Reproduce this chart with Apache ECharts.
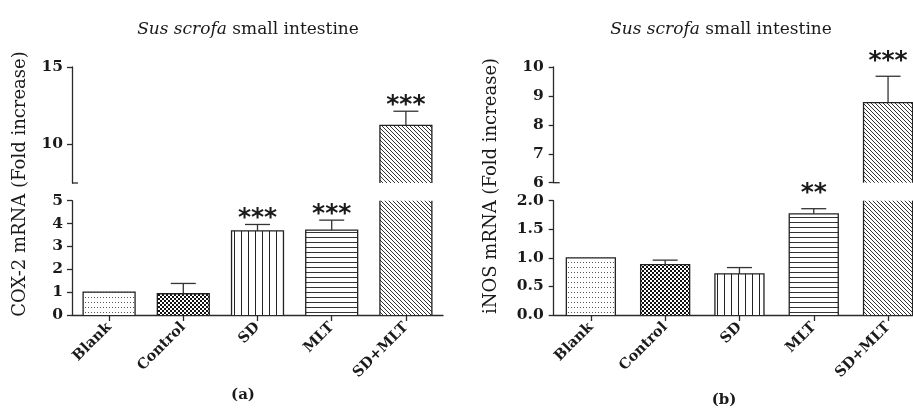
<!DOCTYPE html>
<html>
<head>
<meta charset="utf-8">
<script src="https://cdn.jsdelivr.net/npm/echarts@6/dist/echarts.min.js"></script>
<style>
html,body{margin:0;padding:0;background:#fff;}
#chart{width:913px;height:412px;}
</style>
</head>
<body>
<div id="chart"></div>
<script>
// ---------------- data ----------------
const CATEGORIES = ['Blank', 'Control', 'SD', 'MLT', 'SD+MLT'];

const COX_VALUES = [1.0, 0.93, 3.68, 3.71, 11.23];
const COX_ERRORS = [0, 0.45, 0.28, 0.44, 0.91];
const COX_STARS  = ['', '', '***', '***', '***'];

const INOS_VALUES = [1.0, 0.88, 0.72, 1.77, 8.77];
const INOS_ERRORS = [0, 0.08, 0.11, 0.09, 0.91];
const INOS_STARS  = ['', '', '', '**', '***'];

const COX_LOW_RANGE  = [0, 5];
const COX_HIGH_RANGE = [7.5, 15];
const COX_HIGH_TICKS = [10, 15];
const INOS_LOW_RANGE  = [0, 2];
const INOS_HIGH_RANGE = [6, 10];

const TITLE_TEXT = ['Sus scrofa', ' small intestine'];
const COX_NAME = 'COX-2 mRNA (Fold increase)';
const INOS_NAME = 'iNOS mRNA (Fold increase)';

// ---------------- styling ----------------
const SERIF = 'DejaVu Serif';
const INK = '#1a1a1a';
const AXIS = '#2a2a2a';

function mkCanvas(w, h, draw) {
  const c = document.createElement('canvas');
  c.width = w; c.height = h;
  const g = c.getContext('2d');
  g.fillStyle = '#ffffff'; g.fillRect(0, 0, w, h);
  draw(g);
  return c;
}
const PATTERNS = [
  mkCanvas(3, 5, g => { g.fillStyle = '#555'; g.fillRect(1, 2, 1, 1); }),
  mkCanvas(4, 4, g => { g.fillStyle = '#111'; g.fillRect(0, 0, 2, 2); g.fillRect(2, 2, 2, 2); }),
  mkCanvas(7, 1, g => { g.fillStyle = '#222'; g.fillRect(3, 0, 1, 1); }),
  mkCanvas(1, 5, g => { g.fillStyle = '#333'; g.fillRect(0, 2, 1, 1); }),
  mkCanvas(4, 4, g => { g.fillStyle = '#333'; for (let i = 0; i < 4; i++) g.fillRect(i, i, 1, 1); })
].map(c => ({ image: c, repeat: 'repeat' }));

function barRenderer(range, stars, ratio, starGap) {
  const lo = range[0], hi = range[1];
  return function (params, api) {
    const idx = api.value(0), v = api.value(1), e = api.value(2);
    if (v <= lo) return null;
    const base = api.coord([idx, lo]);
    const x = base[0], yBase = base[1];
    const yTop = api.coord([idx, Math.min(v, hi)])[1];
    const bw = api.size([1, 0])[0] * ratio;
    const l = x - bw / 2, r = x + bw / 2;
    const children = [];
    children.push({ type: 'rect', shape: { x: l, y: yTop, width: bw, height: yBase - yTop },
      style: { fill: PATTERNS[params.dataIndex], stroke: null } });
    if (v <= hi) {
      children.push({ type: 'polyline', shape: { points: [[l, yBase], [l, yTop], [r, yTop], [r, yBase]] },
        style: { stroke: '#222', lineWidth: 1.3, fill: null } });
    } else {
      children.push({ type: 'line', shape: { x1: l, y1: yBase, x2: l, y2: yTop }, style: { stroke: '#222', lineWidth: 1.3 } });
      children.push({ type: 'line', shape: { x1: r, y1: yBase, x2: r, y2: yTop }, style: { stroke: '#222', lineWidth: 1.3 } });
    }
    const top = v + e;
    if (v <= hi && top <= hi) {
      const yErr = api.coord([idx, top])[1];
      if (e > 0) {
        children.push({ type: 'line', shape: { x1: x, y1: yTop, x2: x, y2: yErr }, style: { stroke: '#333', lineWidth: 1.3 } });
        children.push({ type: 'line', shape: { x1: x - 12.5, y1: yErr, x2: x + 12.5, y2: yErr }, style: { stroke: '#333', lineWidth: 1.3 } });
      }
      const s = stars[params.dataIndex];
      if (s) {
        children.push({ type: 'text', x: x, y: yErr - starGap,
          style: { text: s, fontFamily: 'DejaVu Sans', fontWeight: 'bold', fontSize: 25, fill: INK, align: 'center', verticalAlign: 'middle' } });
      }
    }
    return { type: 'group', children: children };
  };
}

const G = {
  aLow:  { left: 72,    top: 200.7, width: 371,   height: 114.3, outerBoundsMode: 'none', containLabel: false },
  aHigh: { left: 72,    top: 67,    width: 371,   height: 116,   outerBoundsMode: 'none', containLabel: false },
  bLow:  { left: 553.7, top: 200.7, width: 371.5, height: 114.3, outerBoundsMode: 'none', containLabel: false },
  bHigh: { left: 553.7, top: 67,    width: 371.5, height: 115.7, outerBoundsMode: 'none', containLabel: false }
};

const tickLabel = { fontFamily: SERIF, fontWeight: 'bold', fontSize: 15.5, color: INK };
const axisLine = { show: true, lineStyle: { color: AXIS, width: 1.3 } };

function lowX(gi) {
  return { gridIndex: gi, type: 'category', data: CATEGORIES, boundaryGap: true,
    axisLine: axisLine, axisTick: { show: true, alignWithLabel: true, length: 6, lineStyle: { color: AXIS, width: 1.3 } },
    axisLabel: { rotate: 45, margin: 10, fontFamily: SERIF, fontWeight: 'bold', fontSize: 14.5, color: INK, interval: 0 } };
}
function highX(gi) {
  return { gridIndex: gi, type: 'category', data: CATEGORIES, boundaryGap: true, show: false };
}

const titleRich = {
  i: { fontFamily: SERIF, fontStyle: 'italic', fontWeight: 'normal', fontSize: 17, color: INK },
  n: { fontFamily: SERIF, fontWeight: 'normal', fontSize: 17, color: INK }
};
const titleStr = '{i|' + TITLE_TEXT[0] + '}{n|' + TITLE_TEXT[1] + '}';

const option = {
  animation: false,
  backgroundColor: '#fff',
  title: [
    { text: titleStr, left: 243, top: 16, textAlign: 'center', textStyle: { fontWeight: 'normal', rich: titleRich } },
    { text: titleStr, left: 716, top: 16, textAlign: 'center', textStyle: { fontWeight: 'normal', rich: titleRich } }
  ],
  grid: [G.aLow, G.aHigh, G.bLow, G.bHigh],
  xAxis: [lowX(0), highX(1), lowX(2), highX(3)],
  yAxis: [
    { gridIndex: 0, type: 'value', min: COX_LOW_RANGE[0], max: COX_LOW_RANGE[1], interval: 1,
      axisLine: axisLine, axisTick: { show: true, length: 5, lineStyle: { color: AXIS, width: 1.3 } },
      axisLabel: Object.assign({ margin: 9 }, tickLabel), splitLine: { show: false } },
    { gridIndex: 1, type: 'value', min: COX_HIGH_RANGE[0], max: COX_HIGH_RANGE[1],
      axisLine: axisLine, axisTick: { show: true, length: 5, customValues: COX_HIGH_TICKS, lineStyle: { color: AXIS, width: 1.3 } },
      axisLabel: Object.assign({ margin: 9, customValues: COX_HIGH_TICKS }, tickLabel), splitLine: { show: false } },
    { gridIndex: 2, type: 'value', min: INOS_LOW_RANGE[0], max: INOS_LOW_RANGE[1], interval: 0.5,
      axisLine: axisLine, axisTick: { show: true, length: 5, lineStyle: { color: AXIS, width: 1.3 } },
      axisLabel: Object.assign({ margin: 10, formatter: v => v.toFixed(1) }, tickLabel), splitLine: { show: false } },
    { gridIndex: 3, type: 'value', min: INOS_HIGH_RANGE[0], max: INOS_HIGH_RANGE[1], interval: 1,
      axisLine: axisLine, axisTick: { show: true, length: 5, lineStyle: { color: AXIS, width: 1.3 } },
      axisLabel: Object.assign({ margin: 10 }, tickLabel), splitLine: { show: false } }
  ],
  series: [
    { type: 'custom', xAxisIndex: 0, yAxisIndex: 0, renderItem: barRenderer(COX_LOW_RANGE, COX_STARS, 0.70, 6),
      data: CATEGORIES.map((c, i) => [i, COX_VALUES[i], COX_ERRORS[i]]) },
    { type: 'custom', xAxisIndex: 1, yAxisIndex: 1, renderItem: barRenderer(COX_HIGH_RANGE, COX_STARS, 0.70, 6),
      data: CATEGORIES.map((c, i) => [i, COX_VALUES[i], COX_ERRORS[i]]) },
    { type: 'custom', xAxisIndex: 2, yAxisIndex: 2, renderItem: barRenderer(INOS_LOW_RANGE, INOS_STARS, 0.66, 15),
      data: CATEGORIES.map((c, i) => [i, INOS_VALUES[i], INOS_ERRORS[i]]) },
    { type: 'custom', xAxisIndex: 3, yAxisIndex: 3, renderItem: barRenderer(INOS_HIGH_RANGE, INOS_STARS, 0.66, 15),
      data: CATEGORIES.map((c, i) => [i, INOS_VALUES[i], INOS_ERRORS[i]]) }
  ]
};

const chart = echarts.init(document.getElementById('chart'), null, { renderer: 'canvas' });
chart.setOption(option);

// axis-break caps and free text
const yA = chart.convertToPixel({ yAxisIndex: 1 }, COX_HIGH_RANGE[0]);
const yB = chart.convertToPixel({ yAxisIndex: 3 }, INOS_HIGH_RANGE[0]);
chart.setOption({
  graphic: [
    { type: 'line', shape: { x1: G.aHigh.left, y1: yA, x2: G.aHigh.left + 6, y2: yA }, style: { stroke: AXIS, lineWidth: 1.3 } },
    { type: 'line', shape: { x1: G.bHigh.left, y1: yB, x2: G.bHigh.left + 6, y2: yB }, style: { stroke: AXIS, lineWidth: 1.3 } },
    { type: 'text', x: 20, y: 184, rotation: Math.PI / 2,
      style: { text: COX_NAME, fontFamily: SERIF, fontSize: 18, fill: INK, align: 'center', verticalAlign: 'middle' } },
    { type: 'text', x: 491, y: 186, rotation: Math.PI / 2,
      style: { text: INOS_NAME, fontFamily: SERIF, fontSize: 18, fill: INK, align: 'center', verticalAlign: 'middle' } },
    { type: 'text', x: 243, y: 395,
      style: { text: '(a)', fontFamily: SERIF, fontWeight: 'bold', fontSize: 15, fill: INK, align: 'center', verticalAlign: 'middle' } },
    { type: 'text', x: 724, y: 400,
      style: { text: '(b)', fontFamily: SERIF, fontWeight: 'bold', fontSize: 15, fill: INK, align: 'center', verticalAlign: 'middle' } }
  ]
});
</script>
</body>
</html>
